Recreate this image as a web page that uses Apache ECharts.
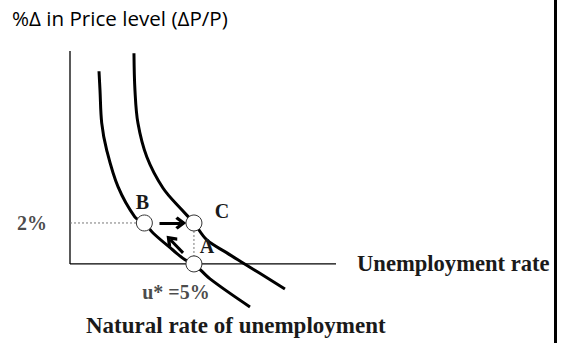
<!DOCTYPE html>
<html>
<head>
<meta charset="utf-8">
<script src="https://cdn.jsdelivr.net/npm/echarts@6/dist/echarts.min.js"></script>
<style>
  html, body { margin: 0; padding: 0; background: #fff; }
  #chart { width: 564px; height: 343px; }
</style>
</head>
<body>
<div id="chart"></div>
<script>
// Short-run Phillips curves: unemployment rate (%) vs inflation (%)
const curveInitial = [
  [1.17, 9.41], [1.21, 8.49], [1.28, 6.88], [1.48, 5.56], [1.94, 3.76],
  [2.62, 2.29], [3.0, 2.0], [3.35, 1.51], [4.15, 0.68], [4.64, 0.20],
  [5.0, 0.0], [5.65, -0.73], [7.26, -2.10]
];
const curveShifted = [
  [2.58, 10.29], [2.62, 8.49], [2.74, 6.88], [3.10, 5.22], [3.75, 3.71],
  [4.52, 2.63], [5.0, 2.0], [5.52, 1.17], [6.33, 0.54], [6.98, 0.05],
  [8.67, -1.22]
];
const pointNames = ['B', 'C', 'A'];
const pointValues = [[3.0, 2.0], [5.0, 2.0], [5.0, 0.0]];
const guideHorizontal = [[0, 2.0], [3.0, 2.0]];
const guideVertical = [[5.0, 2.0], [5.0, 0.0]];
const arrowFrom = [[3.61, 2.0], [4.56, 0.54]];
const arrowTo = [[4.47, 2.0], [4.05, 1.18]];
const xAxisExtent = [0, 10.73];
const yAxisExtent = [0, 10.4];
const yTickLabels = [{ value: 2, text: '2%' }];
const xTickLabels = [{ value: 5, text: 'u* =5%' }];
const yAxisTitle = '%\u0394 in Price level (\u0394P/P)';
const xAxisTitle = 'Unemployment rate';
const noteTitle = 'Natural rate of unemployment';

const serif = '"Liberation Serif", "DejaVu Serif", serif';
const labelOffsets = { B: [-2, -21], C: [28, -12], A: [13, -18] };
const chevron = 'path://M5,0 L10,6 L8.2,7.6 L5,3.8 L1.8,7.6 L0,6 Z';

const chart = echarts.init(document.getElementById('chart'), null, { renderer: 'svg' });

chart.setOption({
  animation: false,
  backgroundColor: '#fff',
  grid: { left: 70, right: 228, top: 51, bottom: 33 },
  xAxis: {
    type: 'value', min: xAxisExtent[0], max: xAxisExtent[1],
    axisLine: { show: false }, axisTick: { show: false },
    axisLabel: { show: false }, splitLine: { show: false }
  },
  yAxis: {
    type: 'value', min: -2.25, max: yAxisExtent[1],
    axisLine: { show: false }, axisTick: { show: false },
    axisLabel: { show: false }, splitLine: { show: false }
  },
  graphic: [
    {
      type: 'text', left: 12, top: 7,
      style: { text: yAxisTitle, fontSize: 20.6, fontFamily: '"Open Sans", Lato, sans-serif', fill: '#000' }
    },
    {
      type: 'text', left: 357, top: 252,
      style: { text: xAxisTitle, fontSize: 22.6, fontWeight: 'bold', fontFamily: serif, fill: '#1a1a1a' }
    },
    {
      type: 'text', left: 86, top: 314,
      style: { text: noteTitle, fontSize: 23, fontWeight: 'bold', fontFamily: serif, fill: '#1a1a1a' }
    },
    {
      type: 'rect', shape: { x: 554, y: 0, width: 3, height: 343 },
      style: { fill: '#000' }
    }
  ],
  series: [
    {
      // horizontal axis
      type: 'line', data: [[xAxisExtent[0], 0], [xAxisExtent[1], 0]],
      symbol: 'none', lineStyle: { color: '#000', width: 1.3 }, silent: true
    },
    {
      // vertical axis
      type: 'line', data: [[0, yAxisExtent[0]], [0, yAxisExtent[1]]],
      symbol: 'none', lineStyle: { color: '#000', width: 1.3 }, silent: true
    },
    {
      type: 'line', data: guideHorizontal, symbol: 'none',
      lineStyle: { color: '#777', width: 1, type: [2, 2] }
    },
    {
      type: 'line', data: guideVertical, symbol: 'none',
      lineStyle: { color: '#777', width: 1, type: [2, 2] }
    },
    {
      type: 'line', data: curveInitial, symbol: 'none', smooth: 0.35,
      lineStyle: { color: '#000', width: 3 }
    },
    {
      type: 'line', data: curveShifted, symbol: 'none', smooth: 0.35,
      lineStyle: { color: '#000', width: 3 }
    },
    {
      // tick labels
      type: 'scatter', symbolSize: 0,
      data: yTickLabels.map(t => ({ value: [0, t.value], name: t.text })),
      label: {
        show: true, position: 'left', distance: 23, formatter: p => p.name,
        fontSize: 20, fontWeight: 'bold', fontFamily: serif, color: '#1a1a1a'
      }
    },
    {
      type: 'scatter', symbolSize: 0,
      data: xTickLabels.map(t => ({ value: [t.value, 0], name: t.text })),
      label: {
        show: true, position: 'bottom', distance: 18, offset: [-18, 0],
        formatter: p => p.name, fontSize: 20, fontWeight: 'bold', fontFamily: serif, color: '#1a1a1a'
      }
    },
    {
      type: 'line', data: [], symbol: 'none',
      markLine: {
        silent: true, symbol: ['none', chevron], symbolSize: [13, 11],
        label: { show: false },
        lineStyle: { color: '#000', width: 3, type: 'solid' },
        data: arrowFrom.map((f, i) => [{ coord: f }, { coord: arrowTo[i] }])
      }
    },
    {
      type: 'scatter', symbol: 'circle', symbolSize: 16, z: 5,
      itemStyle: { color: '#fff', borderColor: '#333', borderWidth: 1, opacity: 1 },
      data: pointValues.map((v, i) => ({
        value: v, name: pointNames[i],
        label: { offset: labelOffsets[pointNames[i]] }
      })),
      label: {
        show: true, position: 'inside', formatter: p => p.name,
        fontSize: 20, fontWeight: 'bold', fontFamily: serif, color: '#1a1a1a'
      }
    }
  ]
});
</script>
</body>
</html>
